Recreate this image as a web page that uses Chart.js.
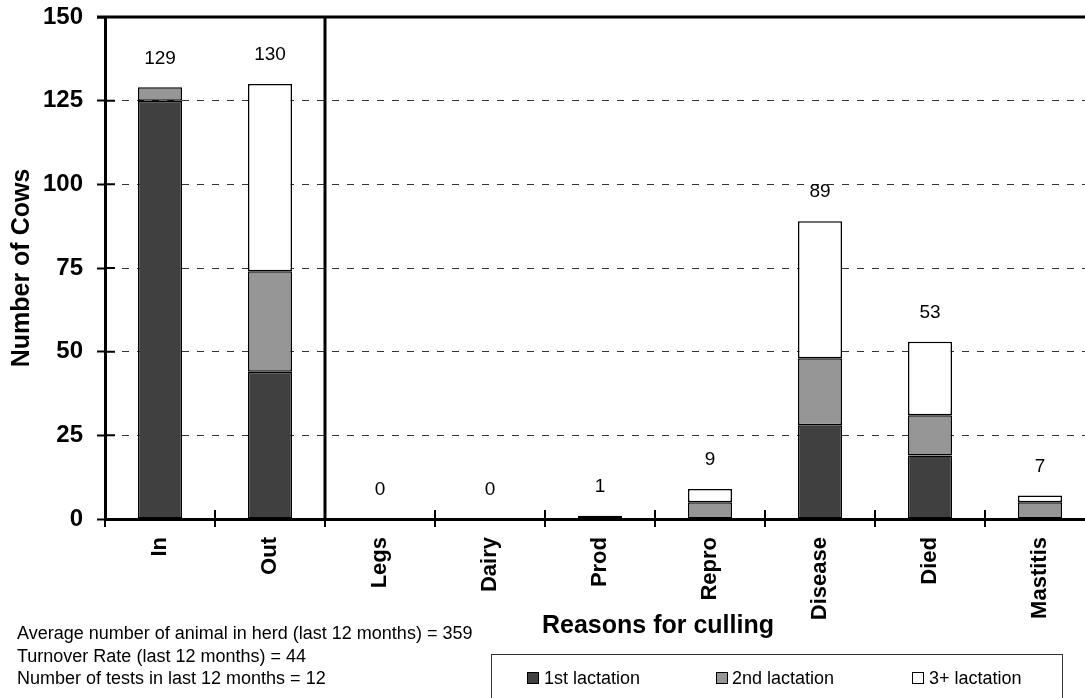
<!DOCTYPE html>
<html>
<head>
<meta charset="utf-8">
<script src="https://cdn.jsdelivr.net/npm/chart.js@4.4.0/dist/chart.umd.min.js"></script>
<style>
  html, body { margin: 0; padding: 0; background: #fff; overflow: hidden; }
  body { width: 1085px; height: 698px; position: relative; font-family: Arial, "Liberation Sans", sans-serif; color: #000; }
  #wrap { position: absolute; left: 0; top: 0; width: 1095px; height: 698px; }
  #notes { position: absolute; left: 17px; top: 622px; font-size: 18px; line-height: 22.5px; white-space: nowrap; }
  #xtitle { position: absolute; left: 508px; width: 300px; top: 609px; text-align: center; font-weight: bold; font-size: 25px; line-height: 30px; white-space: nowrap; }
  #legend { position: absolute; left: 491px; top: 654px; width: 570px; height: 70px; border: 1px solid #333; }
  .sw { position: absolute; top: 17px; width: 10px; height: 10px; border: 1px solid #000; }
  .lt { position: absolute; top: 13px; font-size: 18px; line-height: 20px; white-space: nowrap; }
</style>
</head>
<body>
<div id="wrap"><canvas id="chartCulling"></canvas></div>
<div id="notes"></div>
<div id="xtitle">Reasons for culling</div>
<div id="legend"></div>
<script>
// ===== DATA =====
const categories = ["In", "Out", "Legs", "Dairy", "Prod", "Repro", "Disease", "Died", "Mastitis"];
const firstLact  = [125, 44, 0, 0, 1, 0, 28, 19, 0];
const secondLact = [4, 30, 0, 0, 0, 5, 20, 12, 5];
const thirdLact  = [0, 56, 0, 0, 0, 4, 41, 22, 2];
const seriesNames = ["1st lactation", "2nd lactation", "3+ lactation"];
const seriesColors = ["#404040", "#969696", "#ffffff"];
const yTicks = [0, 25, 50, 75, 100, 125, 150];
const notes = [
  "Average number of animal in herd (last 12 months) = 359",
  "Turnover Rate (last 12 months) = 44",
  "Number of tests in last 12 months = 12"
];

const series = [firstLact, secondLact, thirdLact];
const totals = categories.map((c, i) => series.reduce((s, arr) => s + arr[i], 0));

// ===== TEKS BAWAH & LEGEND =====
document.getElementById("notes").innerHTML = notes.join("<br>");
const legendPos = [[35, 52], [224, 240], [420, 437]];
const legend = document.getElementById("legend");
seriesNames.forEach((name, k) => {
  legend.innerHTML += '<div class="sw" style="left:' + legendPos[k][0] + 'px;background:' + seriesColors[k] + '"></div>' +
    '<div class="lt" style="left:' + legendPos[k][1] + 'px">' + name + '</div>';
});

// ===== GARIS TAMBAHAN & LABEL TOTAL =====
const extras = {
  id: "extras",
  afterDatasetsDraw(chart) {
    const { ctx, chartArea: a, scales: { x, y } } = chart;
    ctx.save();
    ctx.strokeStyle = "#000";

    // garis atas dan pemisah In/Out
    ctx.lineWidth = 3;
    ctx.beginPath();
    const topY = y.getPixelForValue(yTicks[yTicks.length - 1]);
    ctx.moveTo(a.left - 8, topY);
    ctx.lineTo(a.right, topY);
    const sepX = x.getPixelForValue(1.5);
    ctx.moveTo(sepX, a.top);
    ctx.lineTo(sepX, a.bottom);
    ctx.stroke();

    // bagian dalam tick
    ctx.lineWidth = 2;
    ctx.beginPath();
    yTicks.forEach(v => {
      const py = y.getPixelForValue(v);
      ctx.moveTo(a.left, py);
      ctx.lineTo(a.left + 10, py);
    });
    for (let i = 0; i <= categories.length; i++) {
      const px = x.getPixelForValue(i - 0.5);
      ctx.moveTo(px, a.bottom);
      ctx.lineTo(px, a.bottom - 9);
    }
    ctx.stroke();

    // label total
    ctx.fillStyle = "#000";
    ctx.font = "19px Arial, 'Liberation Sans', sans-serif";
    ctx.textAlign = "center";
    ctx.textBaseline = "middle";
    totals.forEach((t, i) => {
      ctx.fillText(String(t), x.getPixelForValue(i), y.getPixelForValue(t) - 29);
    });
    ctx.restore();
  }
};

// ===== BUAT CHART =====
new Chart(document.getElementById("chartCulling"), {
  type: "bar",
  data: {
    labels: categories,
    datasets: seriesNames.map((name, k) => ({
      label: name,
      data: series[k],
      backgroundColor: seriesColors[k],
      borderColor: "#000",
      borderWidth: c => (c.raw ? 1.5 : 0),
      borderSkipped: false,
      barPercentage: 0.4,
      categoryPercentage: 1
    }))
  },
  options: {
    responsive: true,
    maintainAspectRatio: false,
    animation: false,
    events: [],
    layout: { padding: { top: 17, left: 0, right: 0, bottom: 0 } },
    plugins: {
      legend: { display: false },
      tooltip: { enabled: false }
    },
    scales: {
      x: {
        stacked: true,
        z: 1,
        afterFit: s => { s.height = 179; s.paddingLeft = 0; s.paddingRight = 0; },
        border: { color: "#000", width: 3 },
        grid: {
          offset: true,
          drawOnChartArea: false,
          color: "#000",
          lineWidth: 2,
          tickLength: 8
        },
        ticks: {
          color: "#000",
          font: { family: "Arial, 'Liberation Sans', sans-serif", size: 22, weight: "bold" },
          minRotation: 90,
          maxRotation: 90,
          autoSkip: false,
          padding: 10
        }
      },
      y: {
        stacked: true,
        min: 0,
        max: 150,
        afterFit: s => { s.width = 105; s.paddingTop = 0; s.paddingBottom = 0; },
        afterBuildTicks: s => { s.ticks = yTicks.map(v => ({ value: v })); },
        border: { color: "#000", width: 3, dash: [7, 8] },
        grid: {
          color: c => (c.tick && c.tick.value > 0 && c.tick.value < 150 ? "#333" : "rgba(0,0,0,0)"),
          lineWidth: 1,
          tickColor: "#000",
          tickWidth: 2,
          tickLength: 8,
          tickBorderDash: []
        },
        ticks: {
          color: "#000",
          font: { family: "Arial, 'Liberation Sans', sans-serif", size: 24, weight: "bold" },
          padding: 14
        },
        title: {
          display: true,
          text: "Number of Cows",
          color: "#000",
          font: { family: "Arial, 'Liberation Sans', sans-serif", size: 25, weight: "bold" },
          padding: { top: 7, bottom: 0 }
        }
      }
    }
  },
  plugins: [extras]
});
</script>
</body>
</html>
